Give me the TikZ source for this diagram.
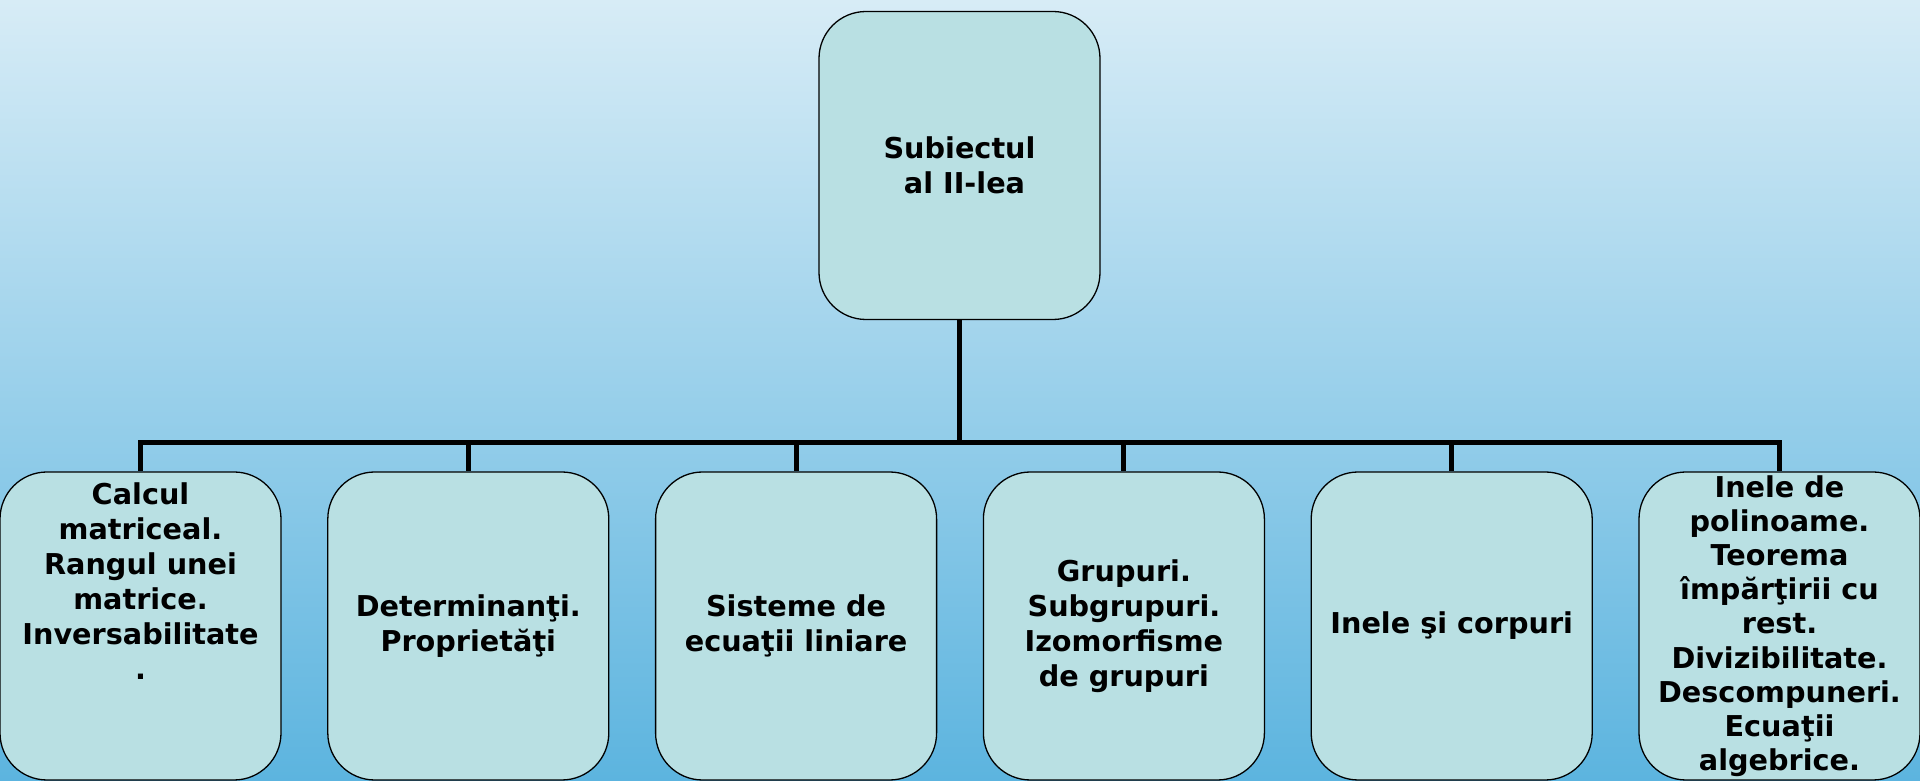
\documentclass[tikz,border=0pt]{standalone}
\usepackage{fontspec}
\setmainfont{DejaVu Sans}
\definecolor{bgtop}{HTML}{D7ECF6}
\definecolor{bgmid}{HTML}{94CEEA}
\definecolor{bgbot}{HTML}{5CB4DF}
\definecolor{boxfill}{HTML}{B9E0E3}
\begin{document}
\begin{tikzpicture}[
x=1pt,y=1pt,
topic/.style={draw,fill=boxfill,line width=1.3pt,rounded corners=47pt,
  minimum width=281pt,minimum height=308pt,inner sep=0pt,align=center,
  font=\bfseries\fontsize{28.7}{35}\selectfont},
link/.style={draw,line width=5pt},
]
\useasboundingbox (0,0) rectangle (1920,781);
\shade[top color=bgtop,middle color=bgmid,bottom color=bgbot]
    (0,0) rectangle (1920,781);
% root and the six topics
\node[topic] (root) at (959.5,615.5) {Subiectul\\\ al II-lea};
\node[topic] (calcul) at (140.5,155) {Calcul\\matriceal.\\Rangul unei\\matrice.\\Inversabilitate\\.\\[55pt]\mbox{}};
\node[topic] (det) at (468.3,155) {Determinanţi.\\Proprietăţi};
\node[topic] (sist) at (796.1,155) {Sisteme de\\ecuaţii liniare};
\node[topic] (grup) at (1123.9,155) {Grupuri.\\Subgrupuri.\\Izomorfisme\\de grupuri};
\node[topic] (inele) at (1451.7,155) {Inele şi corpuri};
\node[topic,font=\bfseries\fontsize{28.7}{34.2}\selectfont] (polin) at (1779.5,155)
    {Inele de\\polinoame.\\Teorema\\împărţirii cu\\rest.\\Divizibilitate.\\Descompuneri.\\Ecuaţii\\algebrice.};
\foreach \t in {calcul,det,sist,grup,inele,polin}
    \draw[link] (root.south) -- ++(0,-122) -| (\t.north);
\end{tikzpicture}
\end{document}
